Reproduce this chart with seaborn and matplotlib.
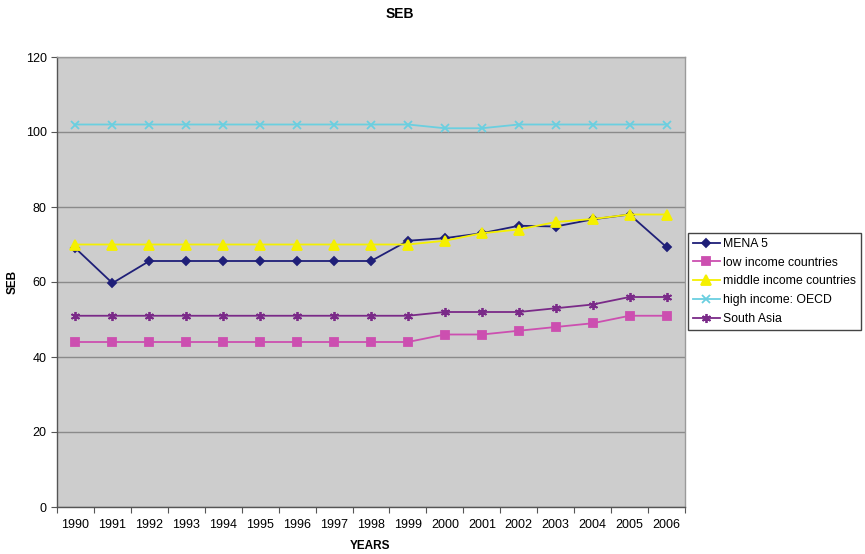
import matplotlib
matplotlib.use("Agg")
import matplotlib.pyplot as plt
import seaborn as sns
import pandas as pd
import numpy as np

years = [str(y) for y in range(1990, 2007)]

mena5 = [69, 59.7, 65.6, 65.6, 65.6, 65.6, 65.6, 65.6, 65.6, 71, 71.7, 73, 75, 74.8, 76.7, 78, 69.3]
low_income = [44, 44, 44, 44, 44, 44, 44, 44, 44, 44, 46, 46, 47, 48, 49, 51, 51]
middle_income = [70, 70, 70, 70, 70, 70, 70, 70, 70, 70, 71, 73, 74, 76, 76.8, 78, 78]
high_income_oecd = [102, 102, 102, 102, 102, 102, 102, 102, 102, 102, 101, 101, 102, 102, 102, 102, 102]
south_asia = [51, 51, 51, 51, 51, 51, 51, 51, 51, 51, 52, 52, 52, 53, 54, 56, 56]

series_names = ["MENA 5", "low income countries", "middle income countries",
                "high income: OECD", "South Asia"]
series_values = [mena5, low_income, middle_income, high_income_oecd, south_asia]

y_ticks = [0, 20, 40, 60, 80, 100, 120]

rows = []
for name, vals in zip(series_names, series_values):
    for i, (yr, v) in enumerate(zip(years, vals)):
        rows.append({"pos": i, "year": yr, "SEB": v, "series": name})
df = pd.DataFrame(rows)

palette = {
    "MENA 5": "#1F1F78",
    "low income countries": "#CC4FB0",
    "middle income countries": "#F5F000",
    "high income: OECD": "#6ACFE0",
    "South Asia": "#7A2A88",
}
markers = {
    "MENA 5": "D",
    "low income countries": "s",
    "middle income countries": "^",
    "high income: OECD": "x",
    "South Asia": (6, 2, 0),
}
marker_sizes = {
    "MENA 5": 4.5,
    "low income countries": 5.5,
    "middle income countries": 6.5,
    "high income: OECD": 5.5,
    "South Asia": 6.5,
}

plt.rcParams["font.family"] = ["Liberation Sans", "DejaVu Sans"]

fig = plt.figure(figsize=(8.65, 5.54), dpi=100)
ax = fig.add_axes([57 / 865, 47 / 554, (685 - 57) / 865, (507 - 57) / 554])
ax.set_facecolor("#CDCDCD")

for name in series_names:
    sub = df[df["series"] == name]
    sns.lineplot(data=sub, x="pos", y="SEB", color=palette[name],
                 marker=markers[name], markersize=marker_sizes[name],
                 markeredgewidth=1.3, markeredgecolor=palette[name],
                 linewidth=1.3, label=name, ax=ax)

ax.set_xlim(-0.5, len(years) - 0.5)
ax.set_ylim(0, 120)
ax.set_yticks(y_ticks)
ax.set_yticklabels([str(t) for t in y_ticks], fontsize=9)
ax.set_xticks(np.arange(-0.5, len(years), 1.0))
ax.set_xticklabels([])
ax.set_xticks(np.arange(len(years)), minor=True)
ax.set_xticklabels(years, minor=True, fontsize=9)
ax.tick_params(axis="x", which="minor", length=0, pad=9)
ax.tick_params(axis="x", which="major", length=4, color="#555555", direction="out")
ax.tick_params(axis="y", length=4, color="#555555", direction="out")

ax.grid(axis="y", color="#8A8A8A", linewidth=1.0)
ax.grid(axis="x", visible=False)
ax.set_axisbelow(True)
for side in ["top", "right"]:
    ax.spines[side].set_color("#9A9A9A")
    ax.spines[side].set_linewidth(1.0)
for side in ["left", "bottom"]:
    ax.spines[side].set_color("#555555")
    ax.spines[side].set_linewidth(1.0)

ax.set_xlabel("YEARS", fontsize=8.5, fontweight="bold", va="center")
ax.set_ylabel("SEB", fontsize=8.5, fontweight="bold", va="center")
ax.xaxis.set_label_coords((370 - 57) / 628, -(546 - 507) / 450)
ax.yaxis.set_label_coords((13 - 57) / 628, (507 - 282) / 450)
fig.text(400 / 865, 1 - 14 / 554, "SEB", ha="center", va="center",
         fontsize=10, fontweight="bold")

handles, labels = ax.get_legend_handles_labels()
ax.legend(handles, labels, loc="upper left",
          bbox_to_anchor=(688 / 865, 1 - 233 / 554), bbox_transform=fig.transFigure,
          fontsize=8.8, frameon=True, fancybox=False, edgecolor="#444444",
          framealpha=1, handlelength=2.2, handletextpad=0.3, borderpad=0.4,
          labelspacing=0.55, borderaxespad=0)

fig.savefig("out.png", dpi=100, facecolor="white")
